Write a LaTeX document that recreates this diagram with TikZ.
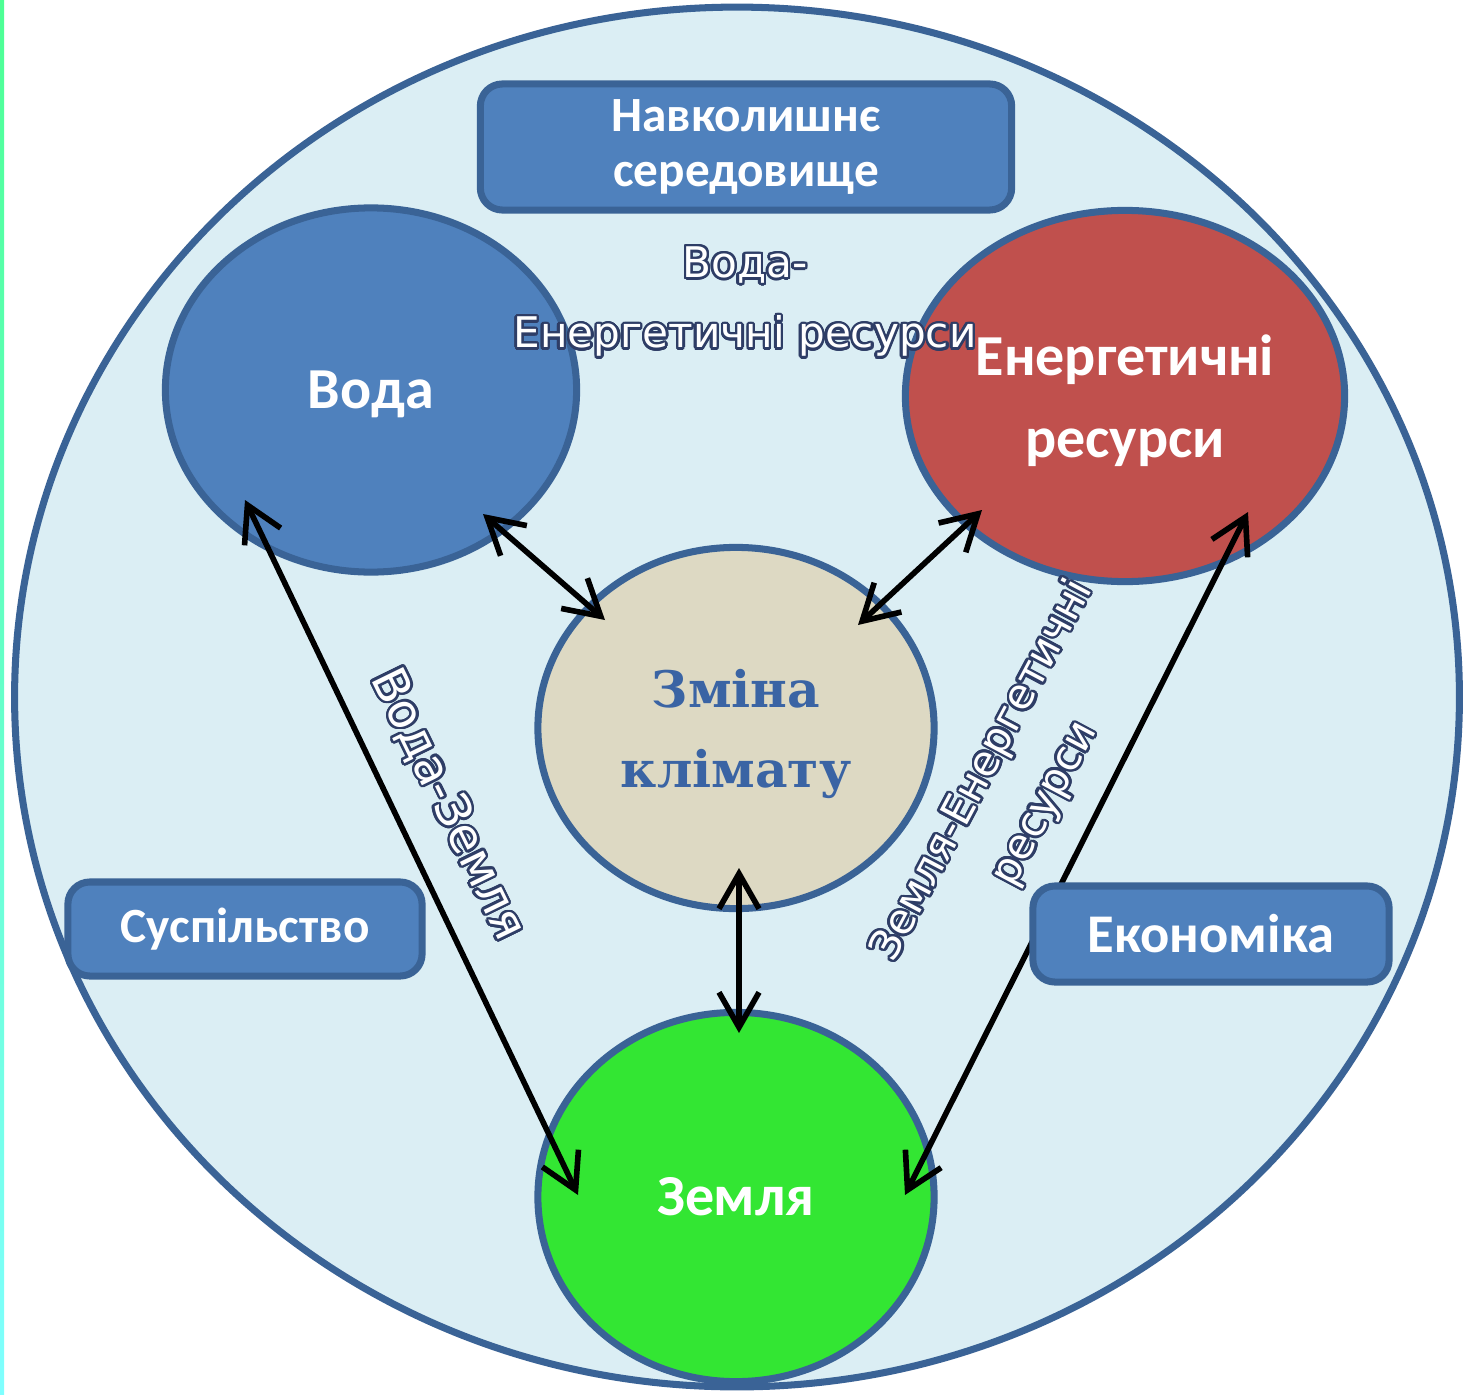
\documentclass[tikz,border=0pt]{standalone}
\usepackage{fontspec}
\setmainfont{Carlito}
\newfontfamily\tagfont{DejaVu Sans}
\newfontfamily\klimfont{DejaVu Serif}
\usepackage{contour}
\usetikzlibrary{arrows.meta,shapes.geometric}

\definecolor{bgblue}{HTML}{DBEEF4}
\definecolor{rimblue}{HTML}{3A6396}
\definecolor{boxblue}{HTML}{4F81BD}
\definecolor{enred}{HTML}{C0504D}
\definecolor{klimbeige}{HTML}{DDD9C3}
\definecolor{zemgreen}{HTML}{33E633}
\definecolor{klimtext}{HTML}{3A64A4}
\definecolor{outl}{HTML}{2E3D66}
\contourlength{0.7pt}
\contournumber{24}

\begin{document}
\begin{tikzpicture}[x=0.01cm,y=-0.01cm,
  blob/.style={draw=rimblue, line width=2pt, ellipse, align=center, text=white,
    font=\bfseries\fontsize{16.5}{23.3}\selectfont, inner sep=0pt},
  tab/.style={draw=rimblue, fill=boxblue, line width=2pt, rounded corners=0.22cm,
    text=white, align=center, font=\bfseries\fontsize{14}{15.9}\selectfont, inner sep=0pt},
  link/.style={{Straight Barb[length=0.35cm,width=0.4cm]}-{Straight Barb[length=0.35cm,width=0.4cm]},
    line width=1.6pt},
  tag/.style={font=\tagfont\fontsize{12}{20}\selectfont, text=white, align=center, inner sep=0pt}]

\useasboundingbox (0,0) rectangle (1464,1394);
\shade[top color=green!60!cyan!70, bottom color=cyan!50] (0,0) rectangle (4,1394);

% outer circle
\node[ellipse, draw=rimblue, fill=bgblue, line width=2pt, inner sep=0pt,
  minimum width=14.44cm, minimum height=13.79cm] (rim) at (737,697) {};

% the four circles
\node[blob, fill=boxblue, text depth=0pt, minimum width=4.11cm, minimum height=3.64cm] (voda) at (371,390) {Вода};
\node[blob, fill=enred, text depth=0pt, minimum width=4.39cm, minimum height=3.71cm] (energ) at (1125,396) {Енергетичні\\ресурси};
\node[blob, fill=klimbeige, text=klimtext, text depth=0pt, minimum width=3.96cm, minimum height=3.61cm,
  font=\klimfont\bfseries\fontsize{14.3}{22.8}\selectfont] (klim) at (736,728) {Зміна\\клімату};
\node[blob, fill=zemgreen, minimum width=3.96cm, minimum height=3.69cm] (zem) at (736,1197) {Земля};

% links
\draw[link] ([shift={(112,124)}]voda.center) -- ([shift={(-131,-108)}]klim.center);
\draw[link] ([shift={(-143,114)}]energ.center) -- ([shift={(122,-103)}]klim.center);
\draw[link] ([shift={(3,140)}]klim.center) -- ([shift={(3,-164)}]zem.center);
\draw[link] ([shift={(-126,110)}]voda.center) -- ([shift={(-158,-2)}]zem.center);
\draw[link] ([shift={(123,116)}]energ.center) -- ([shift={(169,-2)}]zem.center);

% boxes
\node[tab, minimum width=5.31cm, minimum height=1.26cm] (nav) at (746,147) {Навколишнє\\середовище};
\node[tab, minimum width=3.54cm, minimum height=0.94cm] (susp) at (245,929) {Суспільство};
\node[tab, minimum width=3.56cm, minimum height=0.96cm, font=\bfseries\fontsize{15.5}{17}\selectfont] (ekon) at (1211,934) {Економіка};

% outlined pair labels
\node[tag] (vetag) at (745,303) {\contour{outl}{Вода-}\\\contour{outl}{Енергетичні ресурси}};
\node[tag, rotate=-64, font=\tagfont\fontsize{13.5}{20}\selectfont] (vztag) at (447,805) {\contour{outl}{Вода-Земля}};
\node[tag, rotate=62] (zetag) at (1015,788) {\contour{outl}{Земля-Енергетичні}\\\contour{outl}{ресурси}};
\end{tikzpicture}
\end{document}
